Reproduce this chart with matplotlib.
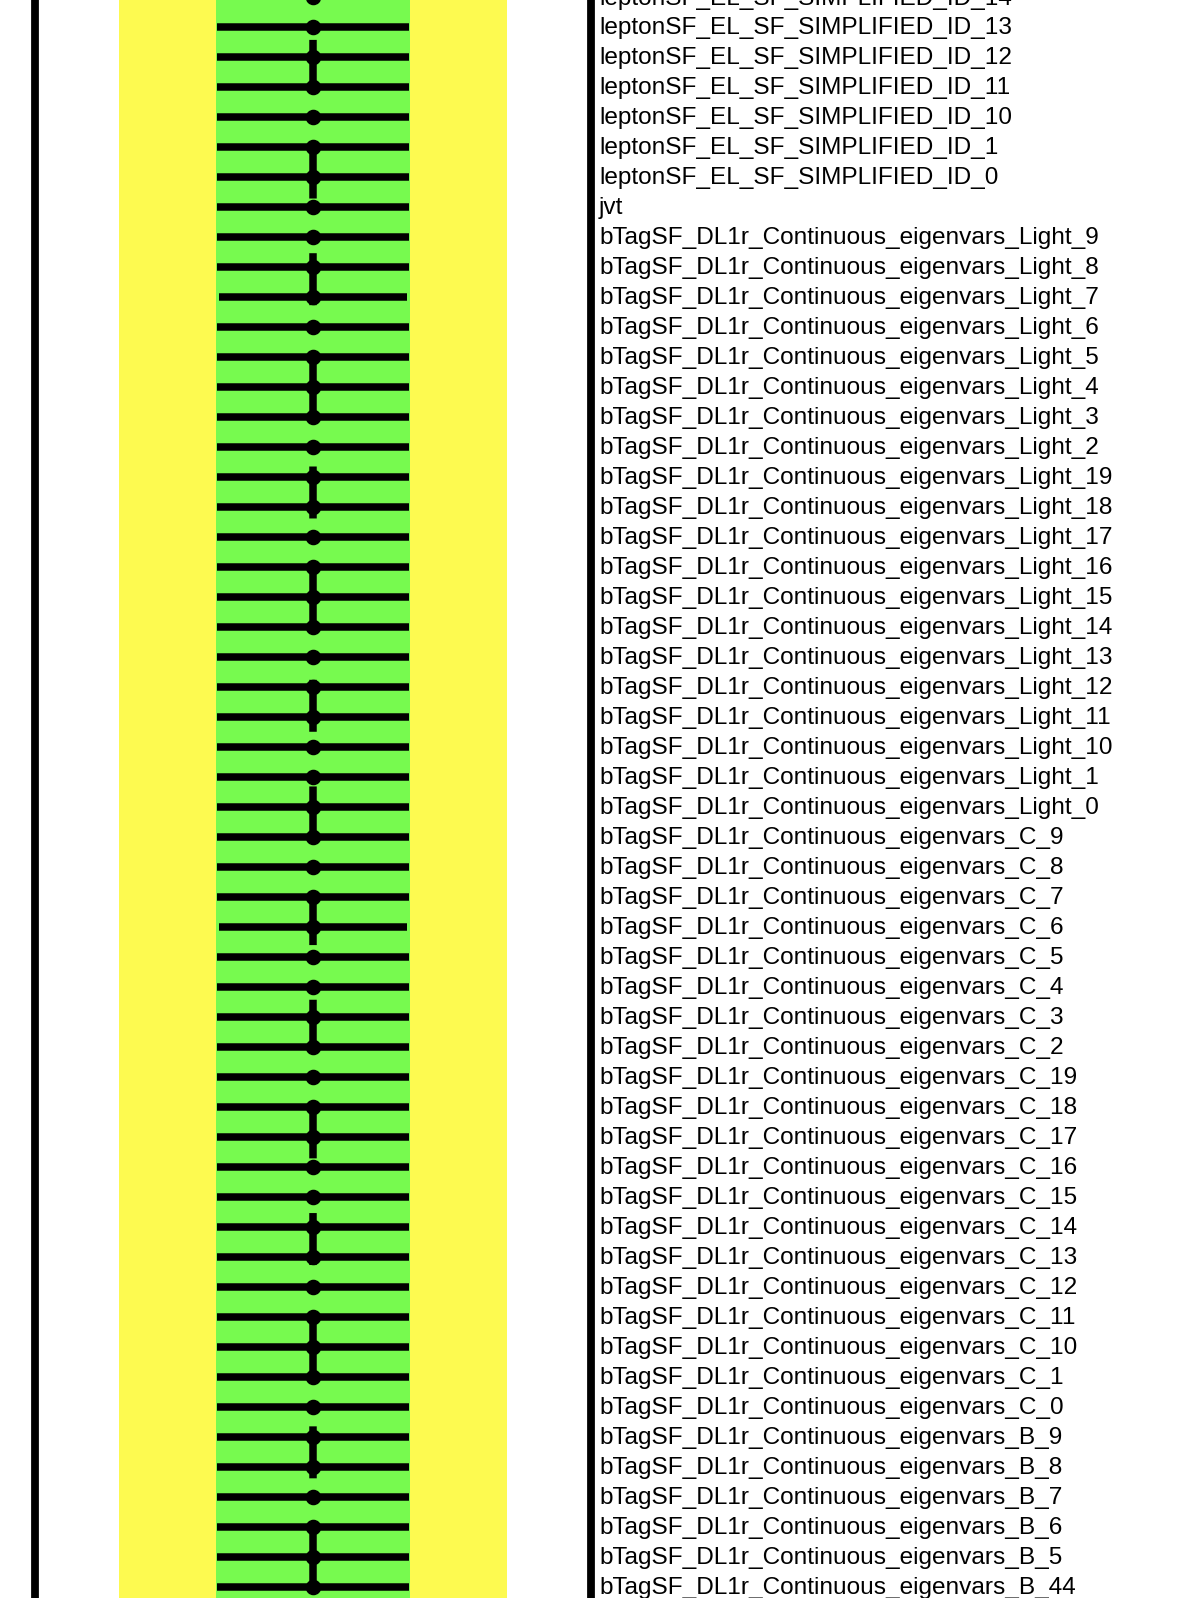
import numpy as np
import matplotlib
matplotlib.use('Agg')
import matplotlib.pyplot as plt
from matplotlib.transforms import offset_copy

# Nuisance parameter names, top to bottom
labels = [
    'leptonSF_EL_SF_SIMPLIFIED_ID_14',
    'leptonSF_EL_SF_SIMPLIFIED_ID_13',
    'leptonSF_EL_SF_SIMPLIFIED_ID_12',
    'leptonSF_EL_SF_SIMPLIFIED_ID_11',
    'leptonSF_EL_SF_SIMPLIFIED_ID_10',
    'leptonSF_EL_SF_SIMPLIFIED_ID_1',
    'leptonSF_EL_SF_SIMPLIFIED_ID_0',
    'jvt',
    'bTagSF_DL1r_Continuous_eigenvars_Light_9',
    'bTagSF_DL1r_Continuous_eigenvars_Light_8',
    'bTagSF_DL1r_Continuous_eigenvars_Light_7',
    'bTagSF_DL1r_Continuous_eigenvars_Light_6',
    'bTagSF_DL1r_Continuous_eigenvars_Light_5',
    'bTagSF_DL1r_Continuous_eigenvars_Light_4',
    'bTagSF_DL1r_Continuous_eigenvars_Light_3',
    'bTagSF_DL1r_Continuous_eigenvars_Light_2',
    'bTagSF_DL1r_Continuous_eigenvars_Light_19',
    'bTagSF_DL1r_Continuous_eigenvars_Light_18',
    'bTagSF_DL1r_Continuous_eigenvars_Light_17',
    'bTagSF_DL1r_Continuous_eigenvars_Light_16',
    'bTagSF_DL1r_Continuous_eigenvars_Light_15',
    'bTagSF_DL1r_Continuous_eigenvars_Light_14',
    'bTagSF_DL1r_Continuous_eigenvars_Light_13',
    'bTagSF_DL1r_Continuous_eigenvars_Light_12',
    'bTagSF_DL1r_Continuous_eigenvars_Light_11',
    'bTagSF_DL1r_Continuous_eigenvars_Light_10',
    'bTagSF_DL1r_Continuous_eigenvars_Light_1',
    'bTagSF_DL1r_Continuous_eigenvars_Light_0',
    'bTagSF_DL1r_Continuous_eigenvars_C_9',
    'bTagSF_DL1r_Continuous_eigenvars_C_8',
    'bTagSF_DL1r_Continuous_eigenvars_C_7',
    'bTagSF_DL1r_Continuous_eigenvars_C_6',
    'bTagSF_DL1r_Continuous_eigenvars_C_5',
    'bTagSF_DL1r_Continuous_eigenvars_C_4',
    'bTagSF_DL1r_Continuous_eigenvars_C_3',
    'bTagSF_DL1r_Continuous_eigenvars_C_2',
    'bTagSF_DL1r_Continuous_eigenvars_C_19',
    'bTagSF_DL1r_Continuous_eigenvars_C_18',
    'bTagSF_DL1r_Continuous_eigenvars_C_17',
    'bTagSF_DL1r_Continuous_eigenvars_C_16',
    'bTagSF_DL1r_Continuous_eigenvars_C_15',
    'bTagSF_DL1r_Continuous_eigenvars_C_14',
    'bTagSF_DL1r_Continuous_eigenvars_C_13',
    'bTagSF_DL1r_Continuous_eigenvars_C_12',
    'bTagSF_DL1r_Continuous_eigenvars_C_11',
    'bTagSF_DL1r_Continuous_eigenvars_C_10',
    'bTagSF_DL1r_Continuous_eigenvars_C_1',
    'bTagSF_DL1r_Continuous_eigenvars_C_0',
    'bTagSF_DL1r_Continuous_eigenvars_B_9',
    'bTagSF_DL1r_Continuous_eigenvars_B_8',
    'bTagSF_DL1r_Continuous_eigenvars_B_7',
    'bTagSF_DL1r_Continuous_eigenvars_B_6',
    'bTagSF_DL1r_Continuous_eigenvars_B_5',
    'bTagSF_DL1r_Continuous_eigenvars_B_44',
]

# Pull (central value) and post-fit constraint for each parameter
pulls = [
    0.0, 0.0, 0.0, 0.0, 0.0, 0.0, 0.0, 0.0, 0.0, 0.0,
    0.0, 0.0, 0.0, 0.0, 0.0, 0.0, 0.0, 0.0, 0.0, 0.0,
    0.0, 0.0, 0.0, 0.0, 0.0, 0.0, 0.0, 0.0, 0.0, 0.0,
    0.0, 0.0, 0.0, 0.0, 0.0, 0.0, 0.0, 0.0, 0.0, 0.0,
    0.0, 0.0, 0.0, 0.0, 0.0, 0.0, 0.0, 0.0, 0.0, 0.0,
    0.0, 0.0, 0.0, 0.0,
]
errors = [
    0.99, 0.99, 0.99, 0.99, 0.99, 0.99, 0.99, 0.99, 0.99, 0.99,
    0.97, 0.99, 0.99, 0.99, 0.99, 0.99, 0.99, 0.99, 0.99, 0.99,
    0.99, 0.99, 0.99, 0.99, 0.99, 0.99, 0.99, 0.99, 0.99, 0.99,
    0.99, 0.97, 0.99, 0.99, 0.99, 0.99, 0.99, 0.99, 0.99, 0.99,
    0.99, 0.99, 0.99, 0.99, 0.99, 0.99, 0.99, 0.99, 0.99, 0.99,
    0.99, 0.99, 0.99, 0.99,
]

rows = np.arange(len(labels))
pulls = np.array(pulls)
errors = np.array(errors)

fig = plt.figure(figsize=(11.92, 15.98), dpi=100)
ax = fig.add_axes([35 / 1192, 0.0, 555.5 / 1192, 1.0])

# view shows only part of a longer list
ax.set_xlim(-2.865, 2.865)
ax.set_ylim(53.367, 0.1)

# +-2 sigma and +-1 sigma bands
ax.axvspan(-2, 2, color='#fdfa50', lw=0, zorder=0)
ax.axvspan(-1, 1, color='#77fa4f', lw=0, zorder=1)

# dashed reference line at zero
ax.plot([0, 0], [0.1, 53.367], color='black', lw=5.4,
        ls=(8.9, (6.93, 7.29)), dash_capstyle='butt', zorder=2)

# pulls with constraints
ax.hlines(rows, pulls - errors, pulls + errors, color='black', lw=5.4, zorder=3)
ax.plot(pulls, rows, 'o', color='black', ms=10.2, zorder=4)

label_trans = offset_copy(ax.get_yaxis_transform(), fig=fig, y=-1.5, units='dots')
for r, name in zip(rows, labels):
    ax.text(1.0153, r, name, transform=label_trans,
            ha='left', va='center', fontsize=17.6, family='Liberation Sans',
            clip_on=False)

for s in ['top', 'bottom']:
    ax.spines[s].set_visible(False)
for s in ['left', 'right']:
    ax.spines[s].set_linewidth(5.6)
ax.set_xticks([])
ax.set_yticks([])

fig.savefig('out.png', dpi=100)
